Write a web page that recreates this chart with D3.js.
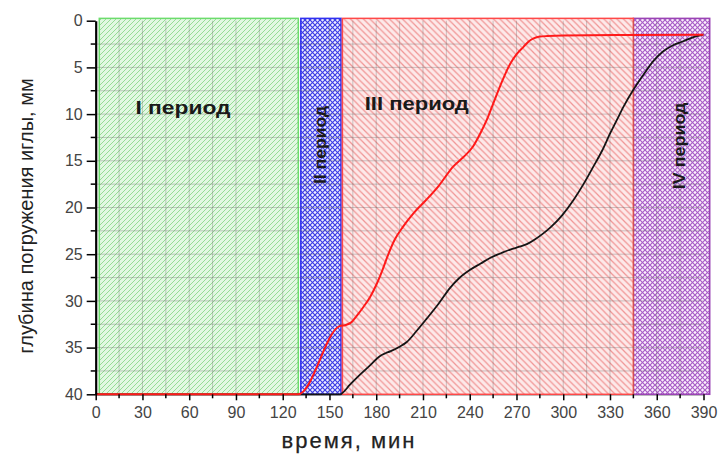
<!DOCTYPE html>
<html>
<head>
<meta charset="utf-8">
<script src="https://cdn.jsdelivr.net/npm/d3@7"></script>
<style>
  body { margin: 0; background: #fff; }
  svg { display: block; }
</style>
</head>
<body>
<svg id="chart" width="720" height="455"></svg>
<script>
// Periods of the test (minutes)
const periodNames = ['I период', 'II период', 'III период', 'IV период'];
const periodStart = [2.3, 131.6, 158.3, 345];
const periodEnd = [130, 157.4, 345, 394];

// Red curve: time (min) and needle depth (mm)
const redTime = [0, 130, 156.5, 160, 164, 168, 172, 176, 180, 184, 188, 192, 197, 204, 212, 220, 229.5, 236, 242, 247, 251, 255, 259.5, 266, 270, 274.5, 278, 281, 285, 290, 300, 345, 390];
const redDepth = [40, 40, 32.7, 32.6, 32.3, 31.5, 30.6, 29.6, 28.3, 26.7, 24.9, 23.4, 22.1, 20.6, 19.2, 17.7, 15.6, 14.6, 13.5, 12.0, 10.6, 8.9, 7.0, 4.6, 3.6, 2.8, 2.2, 1.9, 1.7, 1.64, 1.58, 1.53, 1.5];

// Black curve
const blackTime = [0, 157, 158, 163, 169.6, 176, 182.5, 186, 189, 195, 199.6, 206, 212.4, 220, 227.4, 233, 240, 247, 253, 260, 266, 272, 277, 282, 287, 292, 299, 306.6, 313, 319.4, 325, 330, 334.5, 338.7, 345, 351, 357.9, 364, 370.8, 377, 383.6, 390];
const blackDepth = [40, 40, 39.9, 39.0, 37.9, 36.9, 35.9, 35.6, 35.4, 34.9, 34.4, 33.2, 31.9, 30.3, 28.6, 27.6, 26.7, 26.0, 25.4, 24.9, 24.5, 24.2, 23.9, 23.4, 22.8, 22.1, 20.9, 19.2, 17.5, 15.6, 13.9, 12.1, 10.6, 9.2, 7.4, 5.9, 4.3, 3.3, 2.6, 2.2, 1.75, 1.5];

const xTicks = d3.range(0, 391, 30);
const yTicks = d3.range(0, 41, 5);

const svg = d3.select('#chart');
const x = d3.scaleLinear().domain([0, 390]).range([95.7, 703.5]);
const y = d3.scaleLinear().domain([0, 40]).range([20.7, 394.3]);

// Fill patterns for the periods
const defs = svg.append('defs');

function hatch(id, size, bg, color, width, dirs) {
  const p = defs.append('pattern')
    .attr('id', id)
    .attr('patternUnits', 'userSpaceOnUse')
    .attr('width', size)
    .attr('height', size);
  p.append('rect').attr('width', size).attr('height', size).attr('fill', bg);
  const s = size;
  if (dirs.includes('/')) {
    p.append('path')
      .attr('d', `M0,${s} L${s},0 M${-s / 2},${s / 2} L${s / 2},${-s / 2} M${s / 2},${s * 1.5} L${s * 1.5},${s / 2}`)
      .attr('stroke', color).attr('stroke-width', width);
  }
  if (dirs.includes('\\')) {
    p.append('path')
      .attr('d', `M0,0 L${s},${s} M${-s / 2},${s / 2} L${s / 2},${s * 1.5} M${s / 2},${-s / 2} L${s * 1.5},${s / 2}`)
      .attr('stroke', color).attr('stroke-width', width);
  }
}

hatch('pat0', 5, '#e2f8e2', '#96dc96', 1, '/');
hatch('pat1', 5, '#ececff', '#3a3ae6', 1.15, '/\\');
hatch('pat2', 6.5, '#fde9e9', '#f09494', 1.2, '\\');
hatch('pat3', 5, '#fbf0fb', '#a85cc8', 1.2, '/\\');

const borderColors = ['#6cdc6c', '#3030f0', '#ff4848', '#9a44b4'];

// Bottom axis line under the regions
svg.append('line')
  .attr('x1', x(0)).attr('x2', x(390))
  .attr('y1', y(40)).attr('y2', y(40))
  .attr('stroke', '#000').attr('stroke-width', 2);

// Period rectangles (IV drawn before III so the red border stays on top)
const order = [0, 1, 3, 2];
svg.append('g')
  .selectAll('rect')
  .data(order)
  .join('rect')
  .attr('x', (i) => x(periodStart[i]))
  .attr('y', y(-0.25))
  .attr('width', (i) => x(periodEnd[i]) - x(periodStart[i]))
  .attr('height', y(40) - y(-0.25))
  .attr('fill', (i) => `url(#pat${i})`)
  .attr('stroke', (i) => borderColors[i])
  .attr('stroke-width', 1.5);

// Grid
const grid = svg.append('g').attr('stroke', 'rgba(110,110,110,0.35)').attr('stroke-width', 1);
grid.selectAll('.gx')
  .data(d3.range(15, 390, 15))
  .join('line')
  .attr('x1', (d) => x(d)).attr('x2', (d) => x(d))
  .attr('y1', y(0)).attr('y2', y(40));
grid.selectAll('.gy')
  .data(d3.range(2.5, 40, 2.5))
  .join('line')
  .attr('x1', x(0)).attr('x2', x(390))
  .attr('y1', (d) => y(d)).attr('y2', (d) => y(d));

// Curves
const line = d3.line()
  .x((d) => x(d[0]))
  .y((d) => y(d[1]))
  .curve(d3.curveMonotoneX);

svg.append('path')
  .datum(d3.zip(blackTime, blackDepth))
  .attr('d', line)
  .attr('fill', 'none')
  .attr('stroke', '#151515')
  .attr('stroke-width', 1.8);

svg.append('path')
  .datum(d3.zip(redTime, redDepth))
  .attr('d', line)
  .attr('fill', 'none')
  .attr('stroke', '#ff1a1a')
  .attr('stroke-width', 2);

// Period labels: [time, depth, rotation, font size, stretch]
const labelPos = [[56, 9.3, 0, 19, 1.2], [144.5, 13.3, -90, 16, 1.1], [206, 8.8, 0, 19, 1.16], [375, 13.4, -90, 16, 1.12]];
svg.append('g')
  .selectAll('text')
  .data(labelPos)
  .join('text')
  .attr('transform', (d) => `translate(${x(d[0])},${y(d[1])}) rotate(${d[2]}) scale(${d[4]},1)`)
  .attr('text-anchor', 'middle')
  .attr('dominant-baseline', 'central')
  .attr('font-family', '"Liberation Sans", Arial, sans-serif')
  .attr('font-weight', 'bold')
  .attr('font-size', (d) => d[3])
  .attr('fill', '#1a1a1a')
  .text((d, i) => periodNames[i]);

// Y axis
const yAxis = svg.append('g')
  .attr('transform', `translate(${x(0)},0)`)
  .call(d3.axisLeft(y).tickValues(yTicks).tickSize(9).tickPadding(4).tickSizeOuter(0));
yAxis.select('.domain').attr('stroke', '#000').attr('stroke-width', 2.2);
yAxis.selectAll('.tick line').attr('stroke', '#000').attr('stroke-width', 1.5);
yAxis.selectAll('.tick text')
  .attr('font-family', '"Liberation Sans", Arial, sans-serif')
  .attr('font-size', 16)
  .attr('fill', '#444');
yAxis.selectAll('.minor')
  .data(d3.range(2.5, 40, 5))
  .join('line')
  .attr('x1', -5).attr('x2', 0)
  .attr('y1', (d) => y(d)).attr('y2', (d) => y(d))
  .attr('stroke', '#000').attr('stroke-width', 1.5);

// X axis (ticks and labels only, the line is under the regions)
const xAxis = svg.append('g')
  .attr('transform', `translate(0,${y(40)})`)
  .call(d3.axisBottom(x).tickValues(xTicks).tickSize(6).tickPadding(6).tickSizeOuter(0));
xAxis.select('.domain').remove();
xAxis.selectAll('.tick line').attr('stroke', '#000').attr('stroke-width', 1.5);
xAxis.selectAll('.tick text')
  .attr('font-family', '"Liberation Sans", Arial, sans-serif')
  .attr('font-size', 16)
  .attr('fill', '#444');
xAxis.selectAll('.minor')
  .data(d3.range(15, 390, 30))
  .join('line')
  .attr('x1', (d) => x(d)).attr('x2', (d) => x(d))
  .attr('y1', 0).attr('y2', 4)
  .attr('stroke', '#000').attr('stroke-width', 1.5);

// Axis titles
svg.append('text')
  .attr('x', 349)
  .attr('y', 448)
  .attr('text-anchor', 'middle')
  .attr('font-family', '"Liberation Sans", Arial, sans-serif')
  .attr('font-size', 22)
  .attr('letter-spacing', 2)
  .attr('fill', '#222')
  .attr('stroke', '#222')
  .attr('stroke-width', 0.25)
  .text('время, мин');

svg.append('text')
  .attr('transform', 'translate(33,216) rotate(-90)')
  .attr('text-anchor', 'middle')
  .attr('font-family', '"Liberation Sans", Arial, sans-serif')
  .attr('font-size', 20)
  .attr('fill', '#222')
  .text('глубина погружения иглы, мм');
</script>
</body>
</html>
